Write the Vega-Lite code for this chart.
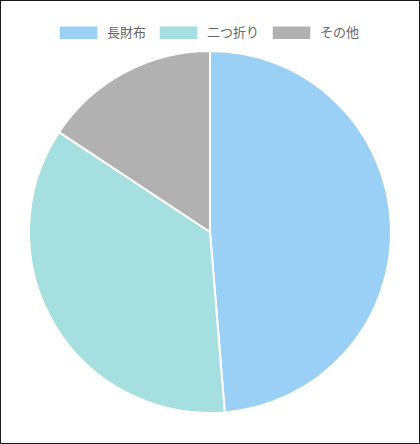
{
  "$schema": "https://vega.github.io/schema/vega-lite/v6.json",
  "width": 420,
  "height": 444,
  "autosize": {"type": "fit", "contains": "padding"},
  "padding": 0,
  "background": "white",
  "view": {"stroke": "#1a1a1a", "strokeWidth": 2},
  "data": {
    "values": [
      {"type": "長財布", "share": 48.7},
      {"type": "二つ折り", "share": 35.6},
      {"type": "その他", "share": 15.7}
    ]
  },
  "mark": {
    "type": "arc",
    "outerRadius": 181,
    "yOffset": 10,
    "stroke": "white",
    "strokeWidth": 2
  },
  "encoding": {
    "theta": {"field": "share", "type": "quantitative", "stack": true},
    "color": {
      "field": "type",
      "type": "nominal",
      "sort": ["長財布", "二つ折り", "その他"],
      "scale": {
        "domain": ["長財布", "二つ折り", "その他"],
        "range": ["#9ad0f5", "#a5dfdf", "#b1b1b1"]
      },
      "legend": {
        "title": null,
        "orient": "none",
        "direction": "horizontal",
        "legendX": 66,
        "legendY": 20,
        "padding": 0,
        "symbolType": "M-1.5,-0.5H1.5V0.5H-1.5Z",
        "symbolSize": 625,
        "symbolStrokeWidth": 0,
        "symbolOpacity": 1,
        "labelOffset": 16,
        "columnPadding": 12,
        "labelFontSize": 13,
        "labelColor": "#666666",
        "labelFont": "Noto Sans CJK JP"
      }
    },
    "order": {"field": "share", "type": "quantitative", "sort": "descending"}
  }
}
